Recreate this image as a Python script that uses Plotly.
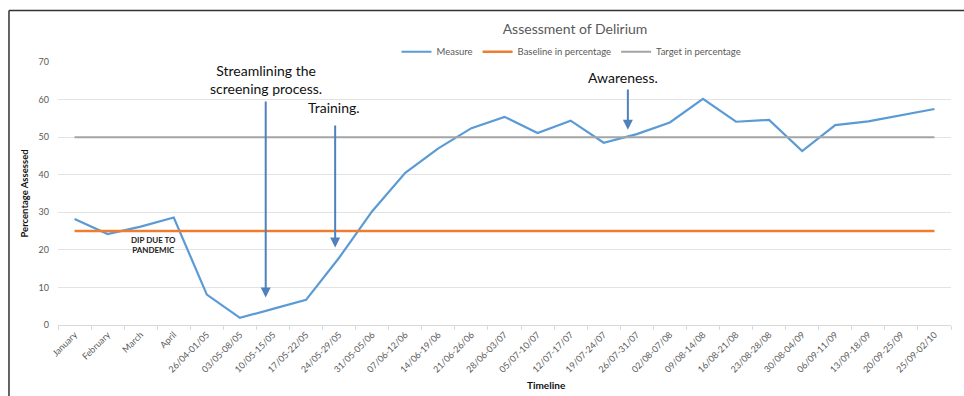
import plotly.graph_objects as go

categories = ["January", "February", "March", "April", "26/04-01/05", "03/05-08/05",
              "10/05-15/05", "17/05-22/05", "24/05-29/05", "31/05-05/06", "07/06-12/06",
              "14/06-19/06", "21/06-26/06", "28/06-03/07", "05/07-10/07", "12/07-17/07",
              "19/07-24/07", "26/07-31/07", "02/08-07/08", "09/08-14/08", "16/08-21/08",
              "23/08-28/08", "30/08-04/09", "06/09-11/09", "13/09-18/09", "20/09-25/09",
              "25/09-02/10"]
measure = [28.2, 24.2, 26.2, 28.6, 8.1, 1.9, 4.3, 6.7, 17.9, 30.3, 40.5, 47.0, 52.4,
           55.4, 51.1, 54.4, 48.5, 50.8, 53.9, 60.2, 54.1, 54.6, 46.3, 53.2, 54.2,
           55.9, 57.5]
baseline = [25] * len(categories)
target = [50] * len(categories)
y_ticks = [0, 10, 20, 30, 40, 50, 60, 70]

GREY = "#595959"
FONT = "Lato"

fig = go.Figure()
fig.add_trace(go.Scatter(x=categories, y=measure, mode="lines", name="Measure",
                         line=dict(color="#5B9BD5", width=2.2)))
fig.add_trace(go.Scatter(x=categories, y=baseline, mode="lines", name="Baseline in percentage",
                         line=dict(color="#ED7D31", width=2.5)))
fig.add_trace(go.Scatter(x=categories, y=target, mode="lines", name="Target in percentage",
                         line=dict(color="#A5A5A5", width=2)))

arrow_color = "#4F81BD"
annotations = [
    dict(x=5.78, y=7.3, ax=5.78, ay=59.9, axref="x", ayref="y", xref="x", yref="y",
         text="", showarrow=True, arrowhead=2, arrowsize=1, arrowwidth=2, arrowcolor=arrow_color),
    dict(x=7.88, y=20.6, ax=7.88, ay=53.5, axref="x", ayref="y", xref="x", yref="y",
         text="", showarrow=True, arrowhead=2, arrowsize=1, arrowwidth=2, arrowcolor=arrow_color),
    dict(x=16.73, y=52.0, ax=16.73, ay=63.1, axref="x", ayref="y", xref="x", yref="y",
         text="", showarrow=True, arrowhead=2, arrowsize=1, arrowwidth=2, arrowcolor=arrow_color),
    dict(x=5.78, y=65.4, xref="x", yref="y", text="Streamlining the<br>screening process.",
         showarrow=False, font=dict(family=FONT, size=14, color="#111111")),
    dict(x=7.83, y=57.8, xref="x", yref="y", text="Training.",
         showarrow=False, font=dict(family=FONT, size=14, color="#111111")),
    dict(x=16.57, y=65.8, xref="x", yref="y", text="Awareness.",
         showarrow=False, font=dict(family=FONT, size=14, color="#111111")),
    dict(x=2.39, y=21.3, xref="x", yref="y", text="<b>DIP DUE TO<br>PANDEMIC</b>",
         showarrow=False, font=dict(family=FONT, size=8, color="#222222")),
    dict(x=0.5465, y=-0.229, xref="paper", yref="paper", yanchor="middle", xanchor="center",
         text="<b>Timeline</b>",
         showarrow=False, font=dict(family=FONT, size=10, color="#111111")),
]

shapes = [
    dict(type="line", xref="paper", yref="paper", x0=-0.0549, x1=1.02, y0=1.1954, y1=1.1954,
         line=dict(color="#333333", width=1.5)),
    dict(type="line", xref="paper", yref="paper", x0=-0.0549, x1=-0.0549, y0=1.1954, y1=-0.3,
         line=dict(color="#333333", width=1.5)),
]

fig.update_layout(
    width=964, height=396,
    margin=dict(l=58, r=13, t=62, b=71),
    paper_bgcolor="white", plot_bgcolor="white",
    title=dict(text="Assessment of Delirium", x=0.5965, xanchor="center", y=0.927,
               yanchor="middle", yref="container",
               font=dict(family=FONT, size=14, color=GREY)),
    legend=dict(orientation="h", x=0.575, xanchor="center", y=1.039, yanchor="middle",
                font=dict(family=FONT, size=9.5, color=GREY), itemwidth=30,
                bgcolor="rgba(0,0,0,0)"),
    showlegend=True,
    annotations=annotations,
    shapes=shapes,
    xaxis=dict(type="category", range=[-0.5, len(categories) - 0.5], tickangle=-45,
               tickson="boundaries", ticks="outside",
               ticklen=4, tickcolor="#D9D9D9", showgrid=False, showline=True,
               linecolor="#D9D9D9", linewidth=1,
               tickfont=dict(family=FONT, size=9, color=GREY)),
    yaxis=dict(range=[0, 70], tickvals=y_ticks, showgrid=True, gridcolor="#E3E3E3",
               gridwidth=1, zeroline=False, showline=False, ticks="",
               tickfont=dict(family=FONT, size=9, color=GREY), ticklabelstandoff=8,
               title=dict(text="<b>Percentage Assessed</b>", standoff=8,
                          font=dict(family=FONT, size=9.5, color="#111111"))),
)

fig.write_html("out.html")
